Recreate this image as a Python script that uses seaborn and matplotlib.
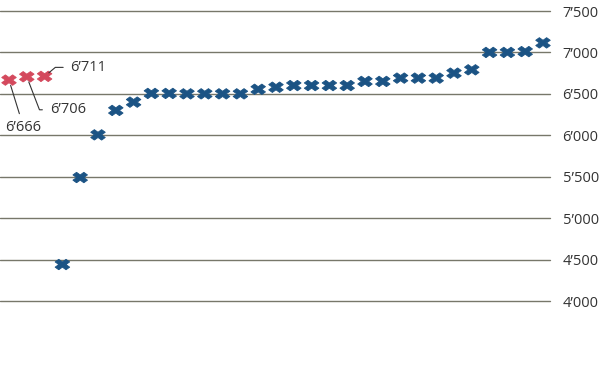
import matplotlib
matplotlib.use("Agg")
import matplotlib.pyplot as plt
import seaborn as sns
import pandas as pd
import numpy as np

# ---- data ----
values = [6666, 6706, 6711, 4440, 5490, 6005, 6300, 6400, 6505, 6505, 6500,
          6500, 6500, 6500, 6555, 6580, 6600, 6600, 6600, 6600, 6650, 6650,
          6690, 6690, 6690, 6750, 6790, 7000, 7000, 7010, 7115]
groups = ["hl"] * 3 + ["base"] * 28
labels = ["6’666", "6’706", "6’711"]
yticks = [4000, 4500, 5000, 5500, 6000, 6500, 7000, 7500]
ytick_labels = ["4’000", "4’500", "5’000", "5’500", "6’000", "6’500", "7’000", "7’500"]

df = pd.DataFrame({"idx": np.arange(len(values)), "value": values, "group": groups})

sns.set_theme(style="white")
plt.rcParams["font.family"] = ["Open Sans", "DejaVu Sans"]

W, H = 600, 380
fig = plt.figure(figsize=(W / 100, H / 100), dpi=100)
ax = fig.add_axes([0, (H - 301) / H, 550 / W, 290 / H])

grid_color = "#77776a"
for t in yticks:
    ax.axhline(t, color=grid_color, lw=1.0, zorder=1, clip_on=False)

# custom wide X marker
xm = np.array([(0.25, 0), (0.5, 0.25), (0.75, 0), (1, 0.25), (0.75, 0.5), (1, 0.75),
               (0.75, 1), (0.5, 0.75), (0.25, 1), (0, 0.75), (0.25, 0.5), (0, 0.25),
               (0.25, 0)]) - 0.5
xm[:, 1] *= 0.72
marker = [tuple(p) for p in xm]

palette = {"hl": "#d4495d", "base": "#1b5384"}
sns.scatterplot(data=df, x="idx", y="value", hue="group", palette=palette,
                marker=marker, s=110, linewidth=0.6, ax=ax, legend=False,
                zorder=3, clip_on=False)
for c in ax.collections:
    c.set_edgecolor(c.get_facecolor())

ax.set_xlim(-9 / 17.8, 30 + 7 / 17.8)
ax.set_ylim(4000, 7500)
ax.set_xticks([])
ax.yaxis.tick_right()
ax.set_yticks(yticks)
ax.set_yticklabels(ytick_labels)
ax.tick_params(axis="y", length=0, pad=9, labelsize=10.5, labelcolor="#333333")
ax.set_xlabel("")
ax.set_ylabel("")
for s in ax.spines.values():
    s.set_visible(False)

px = 0.72  # points per pixel
txt_kw = dict(fontsize=10.5, color="#333333", textcoords="offset points", va="center")
lead = dict(arrowstyle="-", color="#333333", lw=0.8)

# 6'711
ax.annotate(labels[2], xy=(2, values[2]), xytext=(26 * px, 9 * px), ha="left",
            arrowprops=dict(**lead, connectionstyle="angle,angleA=0,angleB=40,rad=0",
                            relpos=(0, 0.5), shrinkA=3, shrinkB=4), **txt_kw)
# 6'706
ax.annotate(labels[1], xy=(1, values[1]), xytext=(23 * px, -33 * px), ha="left",
            arrowprops=dict(**lead, connectionstyle="angle,angleA=0,angleB=-69,rad=0",
                            relpos=(0, 0.5), shrinkA=3, shrinkB=4), **txt_kw)
# 6'666
ax.annotate(labels[0], xy=(0, values[0]), xytext=(-4 * px, -47 * px), ha="left",
            arrowprops=dict(**lead, connectionstyle="arc3,rad=0",
                            relpos=(0.45, 1), shrinkA=2, shrinkB=4), **txt_kw)

fig.savefig("out.png", dpi=100)
